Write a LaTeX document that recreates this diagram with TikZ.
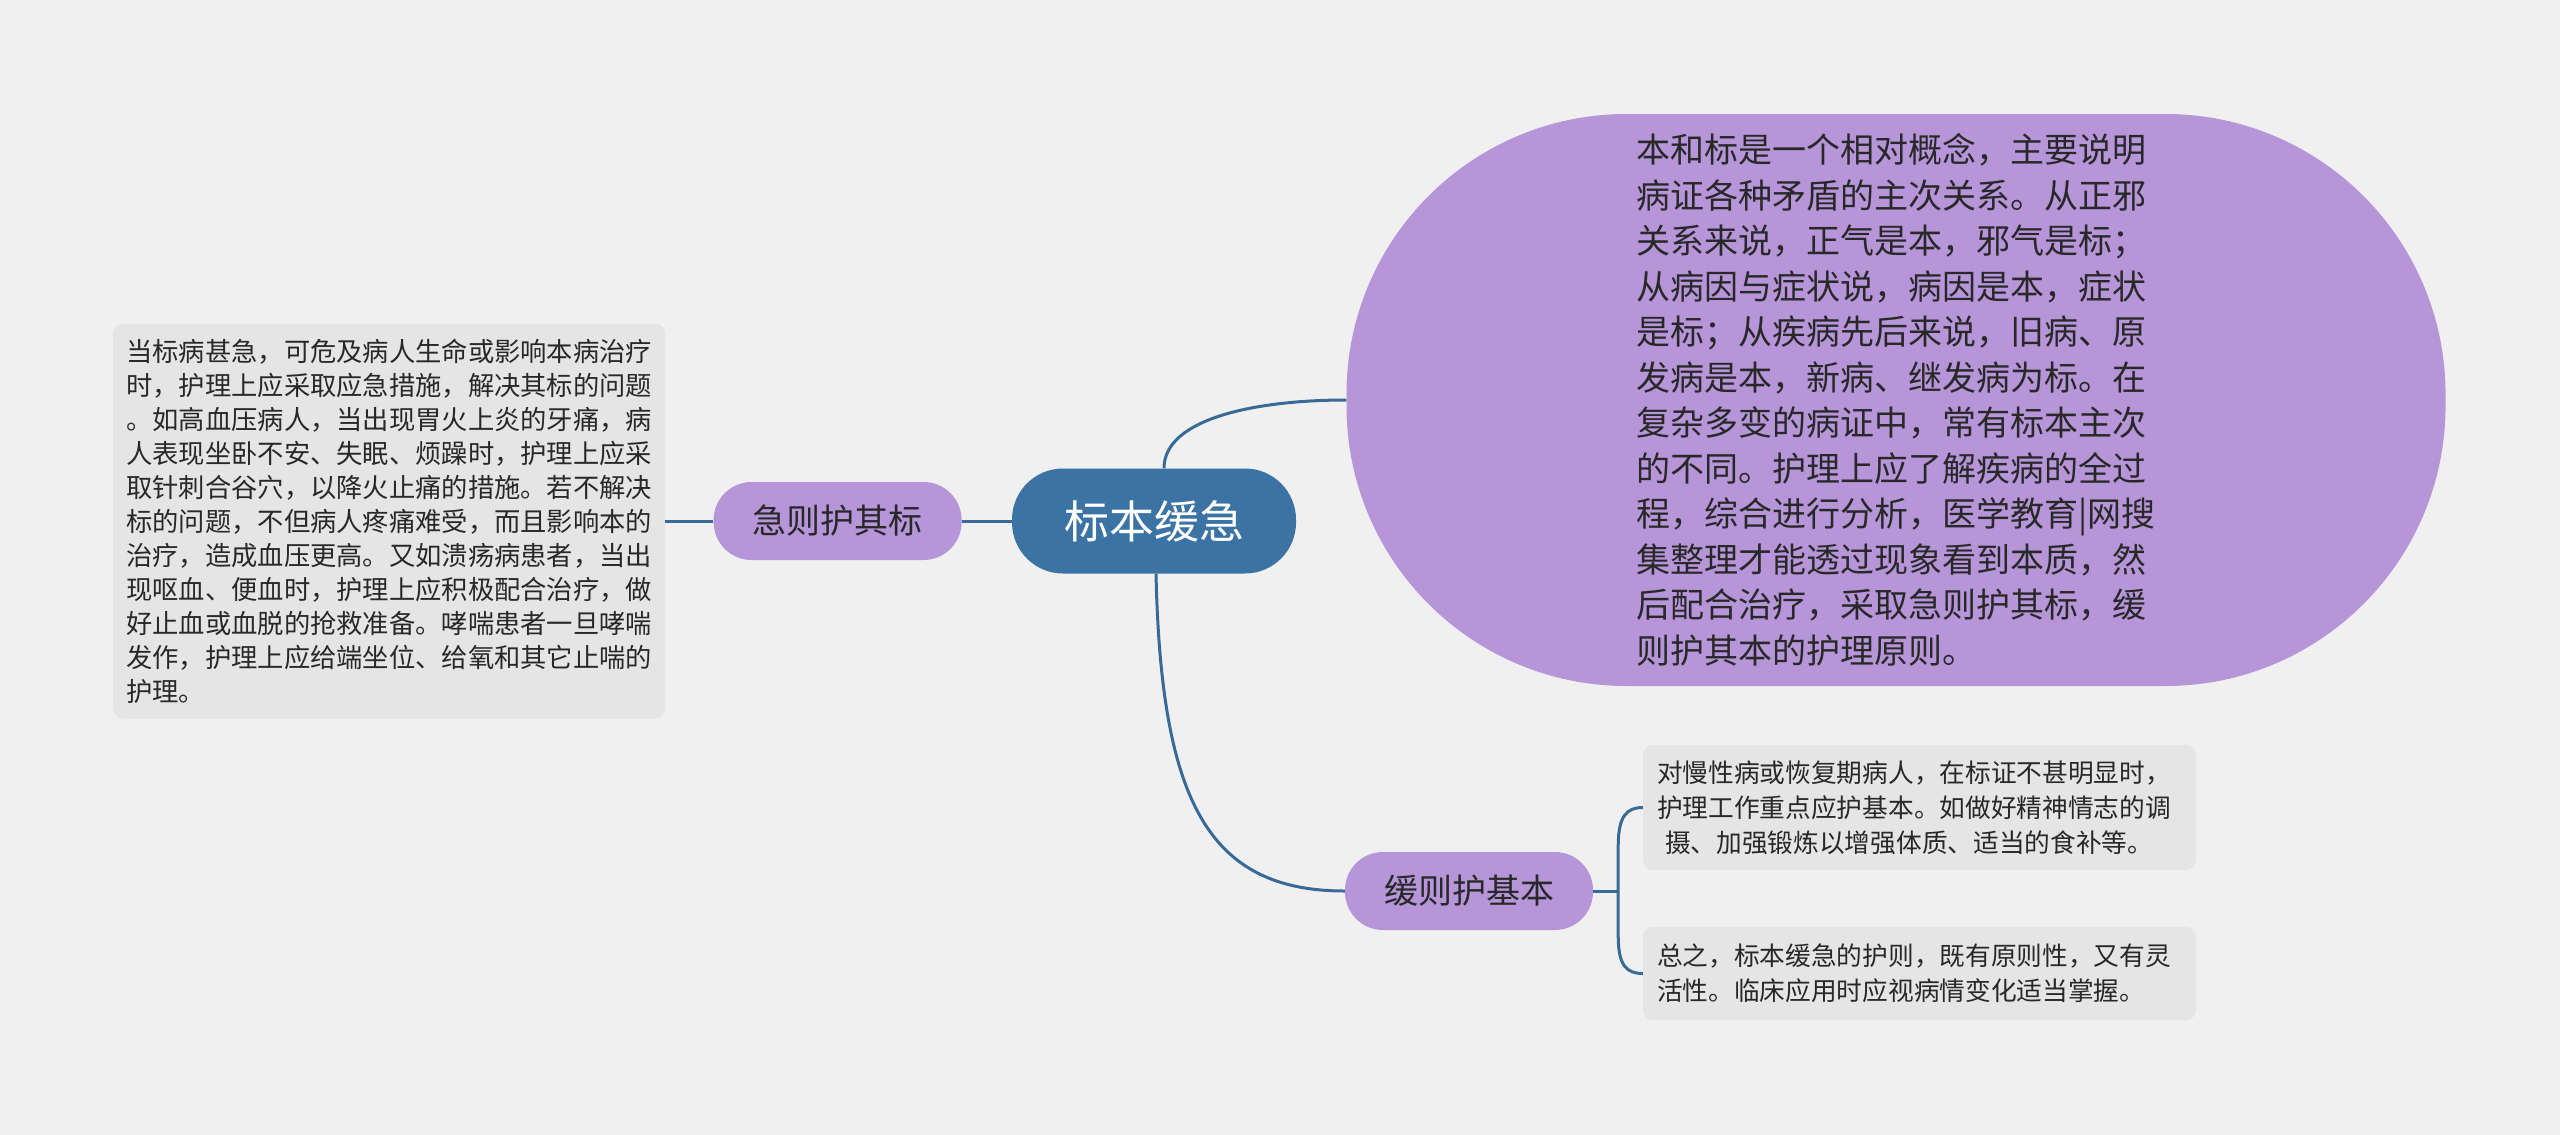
\documentclass[tikz,border=0pt]{standalone}
\usepackage{fontspec}
\setmainfont{Noto Sans CJK SC}
\usetikzlibrary{positioning}
\definecolor{mapBlue}{RGB}{59,115,165}
\definecolor{mapPurple}{RGB}{182,149,216}
\definecolor{noteGray}{RGB}{229,229,229}
\definecolor{linkBlue}{RGB}{56,106,151}
\definecolor{paperGray}{RGB}{240,240,240}
\definecolor{inkDark}{RGB}{40,40,40}
\newcommand{\JiZeText}{当标病甚急，可危及病人生命或影响本病治疗\\
时，护理上应采取应急措施，解决其标的问题\\
。如高血压病人，当出现胃火上炎的牙痛，病\\
人表现坐卧不安、失眠、烦躁时，护理上应采\\
取针刺合谷穴，以降火止痛的措施。若不解决\\
标的问题，不但病人疼痛难受，而且影响本的\\
治疗，造成血压更高。又如溃疡病患者，当出\\
现呕血、便血时，护理上应积极配合治疗，做\\
好止血或血脱的抢救准备。哮喘患者一旦哮喘\\
发作，护理上应给端坐位、给氧和其它止喘的\\
护理。}
\newcommand{\BenBiaoText}{本和标是一个相对概念，主要说明\\
病证各种矛盾的主次关系。从正邪\\
关系来说，正气是本，邪气是标；\\
从病因与症状说，病因是本，症状\\
是标；从疾病先后来说，旧病、原\\
发病是本，新病、继发病为标。在\\
复杂多变的病证中，常有标本主次\\
的不同。护理上应了解疾病的全过\\
程，综合进行分析，医学教育|网搜\\
集整理才能透过现象看到本质，然\\
后配合治疗，采取急则护其标，缓\\
则护其本的护理原则。}
\newcommand{\HuanZeTextA}{对慢性病或恢复期病人，在标证不甚明显时，\\
护理工作重点应护基本。如做好精神情志的调\\
\hspace*{8pt}摄、加强锻炼以增强体质、适当的食补等。}
\newcommand{\HuanZeTextB}{总之，标本缓急的护则，既有原则性，又有灵\\
活性。临床应用时应视病情变化适当掌握。}
\tikzset{
    topic/.style={
        fill=mapPurple,
        text=inkDark,
        rounded corners=38pt,
        minimum width=248pt,
        minimum height=78pt,
        inner sep=0pt,
        font=\fontsize{34}{40}\selectfont
    },
    notebox/.style={
        fill=noteGray,
        text=inkDark,
        rounded corners=10pt,
        align=left,
        inner xsep=13pt,
        font=\fontsize{26.3}{34}\selectfont
    },
    link/.style={draw=linkBlue, line width=3pt}
}

\begin{document}
\begin{tikzpicture}[x=1pt, y=-1pt]
\fill[paperGray] (0,0) rectangle (2560,1135);
\useasboundingbox (0,0) rectangle (2560,1135);

% centre topic
\node[
    fill=mapBlue,
    text=white,
    rounded corners=51pt,
    minimum width=284pt,
    minimum height=105pt,
    font=\fontsize{45}{54}\selectfont
] (root) at (1154,521) {标本缓急};

% left branch
\node[topic, left=50pt of root] (jize) {急则护其标};
\node[notebox, left=48pt of jize, text width=526pt, minimum height=395pt] (jizeNote) {\JiZeText};

% upper right note
\node[
    fill=mapPurple,
    text=inkDark,
    rounded corners=280pt,
    minimum width=1099pt,
    minimum height=572pt,
    align=left,
    font=\fontsize{34}{45.5}\selectfont
] (benbiao) at (1896,400) {\BenBiaoText};

% lower right branch
\node[topic] (huanze) at (1469,891) {缓则护基本};
\node[notebox, inner xsep=14pt, text width=525pt, minimum height=125pt,
      font=\fontsize{25.7}{35}\selectfont] (huanzeA) at (1919.5,807.5) {\HuanZeTextA};
\node[notebox, inner xsep=14pt, text width=525pt, minimum height=93pt,
      font=\fontsize{25.7}{35}\selectfont] (huanzeB) at (1919.5,973.5) {\HuanZeTextB};
\coordinate (fork) at ([xshift=25pt]huanze.east);

% connectors
\draw[link] (root.west) -- (jize.east);
\draw[link] (jize.west) -- (jizeNote.east);
\draw[link] ([xshift=10pt]root.north) .. controls +(0,-50) and +(-90,0) .. (benbiao.west);
\draw[link] ([xshift=2pt]root.south) .. controls +(5,227) and +(-137,0) .. (huanze.west);
\draw[link] (huanze.east) -- (fork);
\draw[link] (fork) -- ++(0,-45) .. controls +(0,-30) and +(-16,0) .. (huanzeA.west);
\draw[link] (fork) -- ++(0,45) .. controls +(0,30) and +(-16,0) .. (huanzeB.west);
\end{tikzpicture}
\end{document}
